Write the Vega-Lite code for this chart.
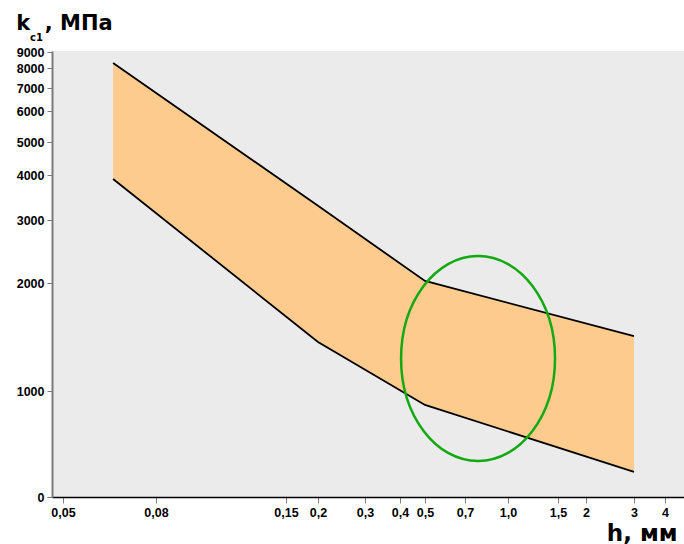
{
  "$schema": "https://vega.github.io/schema/vega-lite/v6.json",
  "width": 632,
  "height": 446,
  "autosize": {"type": "none"},
  "padding": {"left": 52, "top": 51, "right": 0, "bottom": 47},
  "background": "white",
  "title": {
    "text": "k\u00a0\u00a0, МПа",
    "subtitle": "\u200b\u00a0\u00a0\u00a0\u00a0c1",
    "anchor": "start",
    "frame": "bounds",
    "font": "DejaVu Sans",
    "fontSize": 21,
    "fontWeight": "bold",
    "color": "black",
    "subtitleFont": "DejaVu Sans",
    "subtitleFontSize": 10,
    "subtitleFontWeight": "bold",
    "subtitleColor": "black",
    "subtitlePadding": -1,
    "offset": 3
  },
  "config": {
    "view": {"stroke": null, "fill": "#ebebeb"},
    "axis": {
      "labelFont": "Liberation Sans",
      "labelFontSize": 12.5,
      "labelFontWeight": "bold",
      "labelColor": "black",
      "grid": false
    }
  },
  "data": {
    "values": [
      {"h": 0.0644, "lo": 3900, "hi": 8300},
      {"h": 0.2, "lo": 1370, "hi": 3285},
      {"h": 0.5, "lo": 913, "hi": 2026},
      {"h": 3, "lo": 589, "hi": 1423}
    ]
  },
  "encoding": {
    "x": {
      "field": "h",
      "type": "quantitative",
      "scale": {
        "type": "log",
        "domain": [0.0473, 0.05, 0.08, 0.15, 0.2, 0.3, 0.4, 0.5, 0.7, 1, 1.5, 2, 3, 4, 4.7],
        "range": [0, 11, 104, 234, 266, 313, 348, 373, 413, 456, 506, 534, 582, 613, 632],
        "nice": false
      },
      "axis": {
        "values": [0.05, 0.08, 0.15, 0.2, 0.3, 0.4, 0.5, 0.7, 1, 1.5, 2, 3, 4],
        "labelExpr": "datum.value == 1 ? '1,0' : replace(toString(datum.value), '.', ',')",
        "domainColor": "black",
        "domainWidth": 1.5,
        "tickColor": "#808080",
        "tickSize": 6,
        "tickWidth": 1,
        "labelPadding": 3,
        "labelFlush": false,
        "labelOverlap": false,
        "title": "h, мм",
        "titleFont": "DejaVu Sans",
        "titleFontSize": 23,
        "titleFontWeight": "bold",
        "titleColor": "black",
        "titleAlign": "right",
        "titleAnchor": null,
        "titleBaseline": "alphabetic",
        "titleX": 625,
        "titleY": 43
      }
    }
  },
  "layer": [
    {
      "mark": {"type": "area", "color": "#fecb8e", "opacity": 1},
      "encoding": {
        "y": {
          "field": "hi",
          "type": "quantitative",
          "scale": {
            "type": "log",
            "domain": [500, 1000, 2000, 3000, 4000, 5000, 6000, 7000, 8000, 9000, 9060],
            "range": [446, 340, 232, 169, 124, 91, 60, 37, 17, 1, 0],
            "nice": false
          },
          "axis": {
            "values": [500, 1000, 2000, 3000, 4000, 5000, 6000, 7000, 8000, 9000],
            "labelExpr": "datum.value < 600 ? '0' : toString(datum.value)",
            "domainColor": "#7a7a7a",
            "domainWidth": 2,
            "tickColor": "#7a7a7a",
            "tickSize": 5,
            "tickWidth": 1,
            "labelPadding": 3,
            "labelFlush": false,
            "labelOverlap": false,
            "title": null
          }
        },
        "y2": {"field": "lo"}
      }
    },
    {
      "mark": {"type": "line", "color": "black", "strokeWidth": 1.8},
      "encoding": {
        "y": {
          "field": "hi",
          "type": "quantitative",
          "scale": {
            "type": "log",
            "domain": [500, 1000, 2000, 3000, 4000, 5000, 6000, 7000, 8000, 9000, 9060],
            "range": [446, 340, 232, 169, 124, 91, 60, 37, 17, 1, 0],
            "nice": false
          },
          "axis": {
            "values": [500, 1000, 2000, 3000, 4000, 5000, 6000, 7000, 8000, 9000],
            "labelExpr": "datum.value < 600 ? '0' : toString(datum.value)",
            "domainColor": "#7a7a7a",
            "domainWidth": 2,
            "tickColor": "#7a7a7a",
            "tickSize": 5,
            "tickWidth": 1,
            "labelPadding": 3,
            "labelFlush": false,
            "labelOverlap": false,
            "title": null
          }
        }
      }
    },
    {
      "mark": {"type": "line", "color": "black", "strokeWidth": 1.8},
      "encoding": {
        "y": {
          "field": "lo",
          "type": "quantitative",
          "scale": {
            "type": "log",
            "domain": [500, 1000, 2000, 3000, 4000, 5000, 6000, 7000, 8000, 9000, 9060],
            "range": [446, 340, 232, 169, 124, 91, 60, 37, 17, 1, 0],
            "nice": false
          },
          "axis": {
            "values": [500, 1000, 2000, 3000, 4000, 5000, 6000, 7000, 8000, 9000],
            "labelExpr": "datum.value < 600 ? '0' : toString(datum.value)",
            "domainColor": "#7a7a7a",
            "domainWidth": 2,
            "tickColor": "#7a7a7a",
            "tickSize": 5,
            "tickWidth": 1,
            "labelPadding": 3,
            "labelFlush": false,
            "labelOverlap": false,
            "title": null
          }
        }
      }
    },
    {
      "data": {"values": [{"h": 0.78, "k": 1232}]},
      "mark": {
        "type": "point",
        "shape": "M -0.751 0 A 0.751 1 0 1 0 0.751 0 A 0.751 1 0 1 0 -0.751 0 Z",
        "size": 42025,
        "filled": false,
        "stroke": "#12a912",
        "strokeWidth": 2.5,
        "opacity": 1
      },
      "encoding": {
        "y": {
          "field": "k",
          "type": "quantitative",
          "scale": {
            "type": "log",
            "domain": [500, 1000, 2000, 3000, 4000, 5000, 6000, 7000, 8000, 9000, 9060],
            "range": [446, 340, 232, 169, 124, 91, 60, 37, 17, 1, 0],
            "nice": false
          },
          "axis": {
            "values": [500, 1000, 2000, 3000, 4000, 5000, 6000, 7000, 8000, 9000],
            "labelExpr": "datum.value < 600 ? '0' : toString(datum.value)",
            "domainColor": "#7a7a7a",
            "domainWidth": 2,
            "tickColor": "#7a7a7a",
            "tickSize": 5,
            "tickWidth": 1,
            "labelPadding": 3,
            "labelFlush": false,
            "labelOverlap": false,
            "title": null
          }
        }
      }
    }
  ]
}
